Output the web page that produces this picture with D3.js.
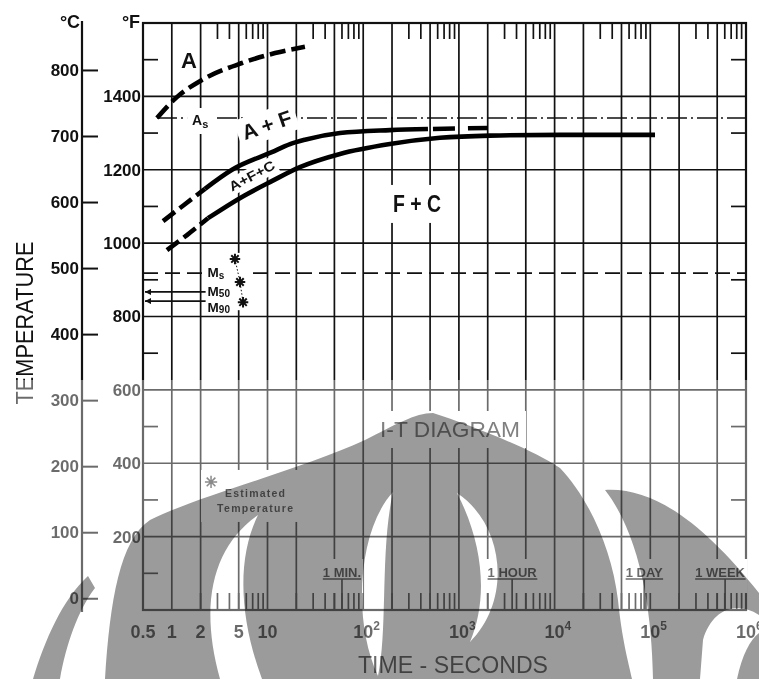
<!DOCTYPE html>
<html>
<head>
<meta charset="utf-8">
<script src="https://cdn.jsdelivr.net/npm/d3@7/dist/d3.min.js"></script>
<style>
  body { margin: 0; background: #fff; }
  svg { display: block; }
</style>
</head>
<body>
<svg id="chart" width="759" height="679"></svg>
<script>
// I-T diagram: time in seconds (log) against temperature in deg F, deg C on a second axis

// axis values
const majorTimes = [1, 2, 5, 10, 20, 50, 100, 200, 500, 1e3, 2e3, 5e3, 1e4, 2e4, 5e4, 1e5, 2e5, 5e5];
const timeTicks = [0.5, 1, 2, 5, 10, 1e2, 1e3, 1e4, 1e5, 1e6];
const timeTickBase = ["0.5", "1", "2", "5", "10", "10", "10", "10", "10", "10"];
const timeTickExp = ["", "", "", "", "", "2", "3", "4", "5", "6"];
const fGrid = [200, 400, 600, 800, 1000, 1200, 1400];
const fLabels = [200, 400, 600, 800, 1000, 1200, 1400];
const fMinor = [100, 300, 500, 700, 900, 1100, 1300, 1500];
const cTicks = [0, 100, 200, 300, 400, 500, 600, 700, 800];
const markNames = ["1 MIN.", "1 HOUR", "1 DAY", "1 WEEK"];
const markSeconds = [60, 3600, 86400, 604800];

// curves, [seconds, deg F]
const austeniteLine = [[0.70,1341],[1.13,1398],[2.07,1445],[5.41,1491],[12.0,1518],[24.6,1535]];
const ferriteStartEst = [[0.81,1060],[1.34,1104],[2.22,1148]];
const ferriteStart = [[2.22,1148],[4.26,1200],[11.1,1248],[17.2,1270],[24.6,1282],[57.2,1300],[190,1308],[475,1311]];
const ferriteStartExt = [[475,1311],[2010,1314]];
const endEst = [[0.89,981],[1.44,1022],[2.39,1068]];
const endLine = [[2.39,1068],[5.41,1126],[11.1,1169],[21.8,1207],[57.2,1243],[190,1270],[634,1287],[2110,1293],[11400,1295],[112000,1295]];

// critical temperatures
const asTemp = 1341, asFrom = 0.70;
const msTemp = 918, m50Temp = 867, m90Temp = 842;
const martPoints = [[4.57,957],[5.16,894],[5.55,839]];
const estMarker = [2.57, 349];

const svg = d3.select("#chart");
const x = d3.scaleLog().domain([0.5, 1e6]).range([143, 746]);
const y = d3.scaleLinear().domain([0, 1600]).range([610, 23]);
const toF = c => 32 + 1.8 * c;
const ink = "#111";
const font = '"Liberation Sans", Arial, sans-serif';
const [xl, xr] = x.range();
const [yb, yt] = y.range();

svg.append("rect").attr("width", 759).attr("height", 679).attr("fill", "#fff");

// grid
const grid = svg.append("g").attr("stroke", ink).attr("stroke-width", 1.7).attr("fill", "none");
grid.selectAll(null).data(fGrid).join("line")
  .attr("x1", xl).attr("x2", xr).attr("y1", d => y(d)).attr("y2", d => y(d));
grid.selectAll(null).data(majorTimes).join("line")
  .attr("x1", d => x(d)).attr("x2", d => x(d)).attr("y1", yt).attr("y2", yb);
grid.selectAll(null).data(fMinor).join("line")
  .attr("x1", xl).attr("x2", xl + 15).attr("y1", d => y(d)).attr("y2", d => y(d));
grid.selectAll(null).data(fMinor).join("line")
  .attr("x1", xr - 15).attr("x2", xr).attr("y1", d => y(d)).attr("y2", d => y(d));
const subTimes = [];
for (let e = 0; e < 6; e++) for (const m of [3, 4, 6, 7, 8, 9]) subTimes.push(m * Math.pow(10, e));
grid.selectAll(null).data(subTimes).join("line")
  .attr("x1", d => x(d)).attr("x2", d => x(d)).attr("y1", yt).attr("y2", yt + 16);
grid.append("rect").attr("x", xl).attr("y", yt).attr("width", xr - xl).attr("height", yb - yt)
  .attr("stroke-width", 2.2);

// reference lines
const ref = svg.append("g").attr("stroke", ink).attr("fill", "none");
ref.append("line").attr("x1", x(asFrom)).attr("x2", xr).attr("y1", y(asTemp)).attr("y2", y(asTemp))
  .attr("stroke-width", 1.4).attr("stroke-dasharray", "20,4,2,4");
ref.append("line").attr("x1", xl).attr("x2", xr).attr("y1", y(msTemp)).attr("y2", y(msTemp))
  .attr("stroke-width", 1.8).attr("stroke-dasharray", "15,7");
const defs = svg.append("defs");
defs.append("marker").attr("id", "arr").attr("viewBox", "0 0 8 8").attr("refX", 8).attr("refY", 4)
  .attr("markerWidth", 6).attr("markerHeight", 6).attr("markerUnits", "userSpaceOnUse")
  .attr("orient", "auto-start-reverse")
  .append("path").attr("d", "M0,0L8,4L0,8Z").attr("fill", ink);
ref.selectAll(null).data([m50Temp, m90Temp]).join("line")
  .attr("x1", xl + 2).attr("x2", x(2) + 6).attr("y1", d => y(d)).attr("y2", d => y(d))
  .attr("stroke-width", 1.6).attr("marker-start", "url(#arr)");

// white boxes behind lettering (they break the grid), filled in after the text is placed
const knockG = svg.append("g").attr("fill", "#fff");
function knock(sel, px, py) {
  const b = sel.node().getBBox();
  knockG.append("rect").attr("x", b.x - px).attr("y", b.y - py)
    .attr("width", b.width + 2 * px).attr("height", b.height + 2 * py)
    .attr("transform", sel.attr("transform"));
}

// curves
const line = d3.line().x(d => x(d[0])).y(d => y(d[1])).curve(d3.curveMonotoneX);
const curves = svg.append("g").attr("fill", "none").attr("stroke", "#000").attr("stroke-width", 4.6);
curves.append("path").attr("d", line(austeniteLine)).attr("stroke-dasharray", "16,6");
curves.append("path").attr("d", line(ferriteStartEst)).attr("stroke-dasharray", "15,6");
curves.append("path").attr("d", line(ferriteStart));
curves.append("path").attr("d", line(ferriteStartExt)).attr("stroke-dasharray", "0,5,22,8");
curves.append("path").attr("d", line(endEst)).attr("stroke-dasharray", "15,6");
curves.append("path").attr("d", line(endLine));

// lettering
const txt = svg.append("g").attr("font-family", font).attr("fill", ink);
function put(t, f, s, size, opt = {}) {
  const px = x(t), py = y(f);
  const el = txt.append("text").attr("x", px).attr("y", py).attr("font-size", size)
    .attr("font-weight", opt.weight || "bold").attr("text-anchor", opt.anchor || "middle").text(s);
  if (opt.rotate) el.attr("transform", `rotate(${opt.rotate},${px},${py})`);
  if (opt.len) el.attr("textLength", opt.len).attr("lengthAdjust", "spacingAndGlyphs");
  if (opt.fill) el.attr("fill", opt.fill);
  return el;
}
put(1.51, 1477, "A", 22);
const asLab = put(1.63, 1322, "A", 14, { anchor: "start" });
asLab.append("tspan").attr("font-size", 11).attr("dy", 3).text("s");
knock(asLab, 5, 4);
const afLab = put(10.4, 1303, "A + F", 21, { rotate: -19 });
knock(afLab, 5, 3);
const afcLab = put(7.23, 1172, "A+F+C", 13.5, { rotate: -28, len: 50 });
knock(afcLab, 2, 1);
const fcLab = put(365, 1085, "F + C", 23, { len: 48 });
knock(fcLab, 8, 6);
const itLab = put(807, 471.6, "I-T DIAGRAM", 22, { weight: "normal", len: 140, fill: "#333" });
knock(itLab, 6, 6);

// martensite labels
const mx = x(2) + 7;
const mLabs = [["M", "s", y(msTemp) + 4, 2], ["M", "50", y(m50Temp) + 4, 1], ["M", "90", y(m90Temp) + 11, 1]];
mLabs.forEach(([a, b, by, sub]) => {
  const el = txt.append("text").attr("x", mx).attr("y", by).attr("font-size", 13.5).attr("font-weight", "bold").text(a);
  el.append("tspan").attr("font-size", 10).attr("dy", sub).text(b);
});
knockG.append("rect").attr("x", mx - 2).attr("y", y(martPoints[0][1]) - 6)
  .attr("width", x(martPoints[2][0]) + 5 - mx).attr("height", y(martPoints[2][1]) - y(martPoints[0][1]) + 14);

const asterisk = {
  draw(ctx, size) {
    const r = Math.sqrt(size) / 2;
    for (let k = 0; k < 4; k++) {
      const a = k * Math.PI / 4;
      ctx.moveTo(-r * Math.cos(a), -r * Math.sin(a));
      ctx.lineTo(r * Math.cos(a), r * Math.sin(a));
    }
  }
};
const marks = svg.append("g").attr("fill", "none").attr("stroke", ink);
marks.append("path").attr("d", d3.line().x(d => x(d[0])).y(d => y(d[1]))(martPoints))
  .attr("stroke-width", 1).attr("stroke-dasharray", "1.5,2");
marks.selectAll(null).data(martPoints).join("path")
  .attr("transform", d => `translate(${x(d[0])},${y(d[1])})`)
  .attr("d", d3.symbol(asterisk, 110)).attr("stroke-width", 2);

// estimated temperature note
const ex = x(estMarker[0]), ey = y(estMarker[1]);
marks.append("path").attr("transform", `translate(${ex},${ey})`)
  .attr("d", d3.symbol(asterisk, 150)).attr("stroke-width", 1.5).attr("stroke", "#444");
txt.append("text").attr("x", ex + 44).attr("y", ey + 15).attr("font-size", 10.5)
  .attr("font-weight", "bold").attr("text-anchor", "middle").attr("textLength", 60).text("Estimated");
txt.append("text").attr("x", ex + 44).attr("y", ey + 30).attr("font-size", 10.5)
  .attr("font-weight", "bold").attr("text-anchor", "middle").attr("textLength", 76).text("Temperature");
knockG.append("rect").attr("x", ex - 10).attr("y", ey - 12).attr("width", 98).attr("height", 52);

// time marks under the grid
markSeconds.forEach((s, i) => {
  const el = txt.append("text").attr("y", yb - 33).attr("font-size", 13).attr("font-weight", "bold")
    .attr("text-anchor", "middle").text(markNames[i]);
  const w = el.node().getComputedTextLength();
  const cx = Math.min(x(s), xr - w / 2 - 1);
  el.attr("x", cx);
  const b = el.node().getBBox();
  knockG.append("rect").attr("x", b.x - 2).attr("y", b.y - 6).attr("width", b.width + 4)
    .attr("height", yb - 17 - (b.y - 6));
  marks.append("line").attr("x1", b.x).attr("x2", b.x + b.width).attr("y1", yb - 31).attr("y2", yb - 31)
    .attr("stroke-width", 1.5);
  marks.append("line").attr("x1", x(s)).attr("x2", x(s)).attr("y1", yb - 31).attr("y2", yb)
    .attr("stroke-width", 1.7);
});
const botTimes = [];
for (let e = 0; e < 6; e++) for (const m of [2, 3, 4, 5, 6, 7, 8, 9]) botTimes.push(m * Math.pow(10, e));
marks.selectAll(null).data(botTimes).join("line")
  .attr("x1", d => x(d)).attr("x2", d => x(d)).attr("y1", yb - 17).attr("y2", yb).attr("stroke-width", 1.7);

// deg C axis
const cScale = d3.scaleLinear().domain([0, 800]).range([y(toF(0)), y(toF(800))]);
const cX = 82;
const gC = svg.append("g").attr("transform", `translate(${cX},0)`)
  .call(d3.axisLeft(cScale).tickValues(cTicks).tickFormat(d3.format("d"))
    .tickSizeInner(-16).tickSizeOuter(0).tickPadding(3));
gC.select(".domain").remove();
gC.selectAll("line").attr("stroke", ink).attr("stroke-width", 2);
gC.selectAll("text").attr("font-size", 17).attr("font-weight", "bold").attr("font-family", font).attr("fill", ink);
svg.append("line").attr("x1", cX).attr("x2", cX).attr("y1", 21).attr("y2", 612)
  .attr("stroke", ink).attr("stroke-width", 2.2);

// deg F labels
const gF = svg.append("g").attr("transform", `translate(${xl},0)`)
  .call(d3.axisLeft(y).tickValues(fLabels).tickFormat(d3.format("d")).tickSize(0).tickPadding(2));
gF.select(".domain").remove();
gF.selectAll("text").attr("font-size", 17).attr("font-weight", "bold").attr("font-family", font).attr("fill", ink);

// time labels
timeTicks.forEach((t, i) => {
  const el = txt.append("text").attr("y", yb + 28).attr("font-size", 18).attr("font-weight", "bold")
    .attr("text-anchor", "start");
  el.append("tspan").text(timeTickBase[i]);
  if (timeTickExp[i]) el.append("tspan").attr("font-size", 12).attr("dy", -8).text(timeTickExp[i]);
  const w = el.node().getSubStringLength(0, timeTickBase[i].length);
  el.attr("x", x(t) - w / 2);
});

// units and titles
txt.append("text").attr("x", 70).attr("y", 28).attr("font-size", 18).attr("font-weight", "bold")
  .attr("text-anchor", "middle").text("°C");
txt.append("text").attr("x", 131).attr("y", 28).attr("font-size", 18).attr("font-weight", "bold")
  .attr("text-anchor", "middle").text("°F");
txt.append("text").attr("transform", "translate(33,323) rotate(-90)").attr("font-size", 24)
  .attr("text-anchor", "middle").attr("textLength", 163).attr("lengthAdjust", "spacingAndGlyphs").text("TEMPERATURE");
txt.append("text").attr("x", 453).attr("y", 673).attr("font-size", 24)
  .attr("text-anchor", "middle").attr("textLength", 190).attr("lengthAdjust", "spacingAndGlyphs").text("TIME - SECONDS");

// scan look: lower part faded, then the grey watermark laid over it
svg.append("rect").attr("x", 0).attr("y", 380).attr("width", 759).attr("height", 299)
  .attr("fill", "#fff").attr("opacity", 0.38);
const watermark = [
  "M105,679C110,600 120,540 150,520C200,495 300,470 365,440C395,425 415,413 433,413C470,425 530,448 560,468C590,500 612,550 618,600C622,640 628,660 632,679Z" +
  "M258,515C215,545 198,600 220,679L262,679C240,620 236,560 258,515Z" +
  "M393,492C358,530 352,620 378,676C388,630 380,550 393,492Z" +
  "M457,493C505,525 512,600 470,642C488,600 484,545 457,493Z",
  "M33,679C45,640 62,600 88,576L95,588C78,610 66,645 60,679Z",
  "M605,490C655,487 705,525 759,593L759,615C735,600 712,610 703,640L700,679L653,679C652,610 640,535 605,490Z",
  "M737,679C742,655 750,640 759,633L759,679Z"
];
svg.append("g").style("mix-blend-mode", "multiply").selectAll(null).data(watermark).join("path")
  .attr("d", d => d).attr("fill", "#9b9b9b").attr("fill-rule", "evenodd");
</script>
</body>
</html>
